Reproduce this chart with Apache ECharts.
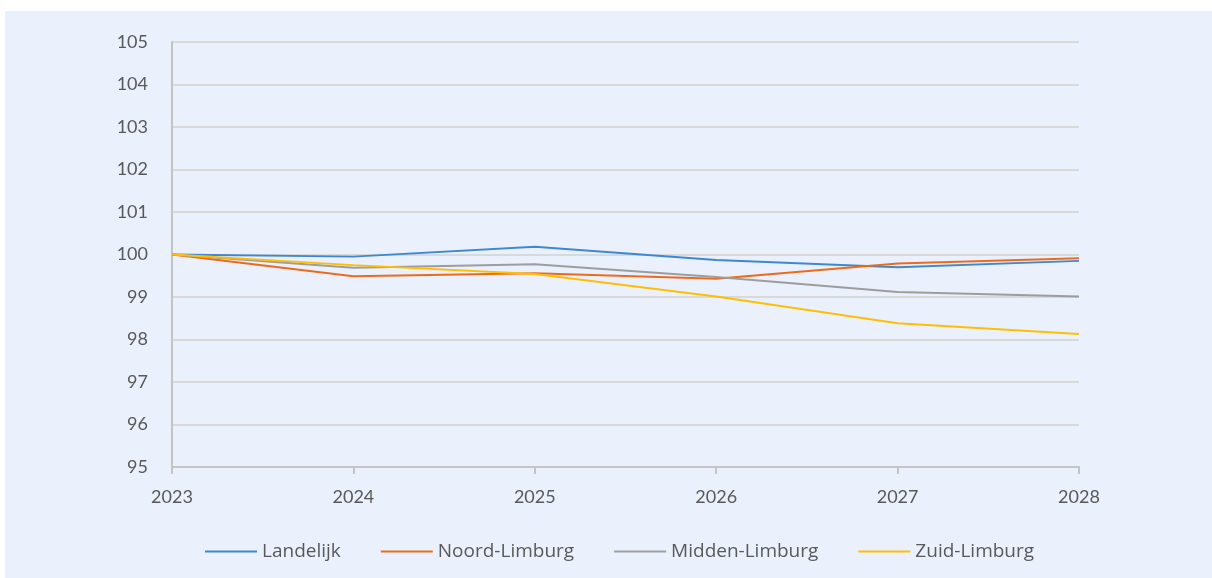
<!DOCTYPE html>
<html>
<head>
<meta charset="utf-8">
<script src="https://cdn.jsdelivr.net/npm/echarts@6/dist/echarts.min.js"></script>
<style>
	html, body { margin: 0; padding: 0; background: #ffffff; }
	#box { position: absolute; left: 5px; top: 11px; width: 1207px; height: 567px; background: #eaf1fd; }
	#chart { width: 1207px; height: 567px; }
</style>
</head>
<body>
<div id="box"><div id="chart"></div></div>
<script>
//数据
var years = ['2023', '2024', '2025', '2026', '2027', '2028'];
var seriesNames = ['Landelijk', 'Noord-Limburg', 'Midden-Limburg', 'Zuid-Limburg'];
var landelijk = [100, 99.95, 100.18, 99.87, 99.70, 99.85];
var noordLimburg = [100, 99.49, 99.56, 99.43, 99.79, 99.91];
var middenLimburg = [100, 99.69, 99.77, 99.47, 99.12, 99.01];
var zuidLimburg = [100, 99.75, 99.54, 99.01, 98.38, 98.13];
var colors = ['#3f88d0', '#ee6a1b', '#9d9d9d', '#ffbf00'];

var fontName = 'Lato, "Open Sans", sans-serif';
var legendFont = '"Open Sans", Lato, sans-serif';

function makeSeries(name, data, color) {
	return {
		name : name,
		type : 'line',
		data : data,
		symbol : 'none',
		smooth : false,
		lineStyle : { color : color, width : 2 },
		itemStyle : { color : color }
	};
}

var chart = echarts.init(document.getElementById('chart'));
var option = {
	animation : false,
	textStyle : { fontFamily : fontName },
	grid : { left : 167, right : 133, top : 31, bottom : 111 },
	legend : {
		top : 526,
		left : 195,
		itemWidth : 52,
		itemHeight : 2,
		itemGap : 40,
		icon : 'rect',
		textStyle : { color : '#595959', fontSize : 19, fontFamily : legendFont },
		data : seriesNames
	},
	xAxis : {
		type : 'category',
		boundaryGap : false,
		data : years,
		axisLine : { lineStyle : { color : '#c4c4c4', width : 2 } },
		axisTick : { show : true, length : 7, lineStyle : { color : '#c4c4c4', width : 2 } },
		axisLabel : { color : '#595959', fontSize : 18, margin : 21 },
		splitLine : { show : false }
	},
	yAxis : {
		type : 'value',
		min : 95,
		max : 105,
		interval : 1,
		axisLine : { show : true, lineStyle : { color : '#c4c4c4', width : 2 } },
		axisTick : { show : false },
		axisLabel : { color : '#595959', fontSize : 18, margin : 24 },
		splitLine : { lineStyle : { color : '#d9d9d9', width : 2 } }
	},
	series : [
		makeSeries(seriesNames[0], landelijk, colors[0]),
		makeSeries(seriesNames[1], noordLimburg, colors[1]),
		makeSeries(seriesNames[2], middenLimburg, colors[2]),
		makeSeries(seriesNames[3], zuidLimburg, colors[3])
	]
};
chart.setOption(option, true);
</script>
</body>
</html>
